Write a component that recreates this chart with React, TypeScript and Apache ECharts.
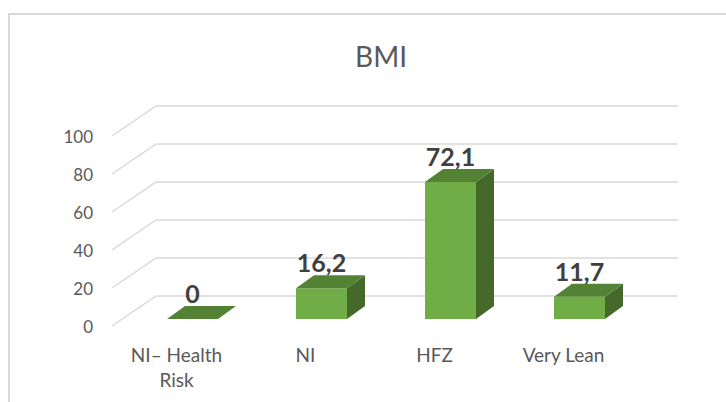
import React, { useEffect, useRef } from "react";
import * as echarts from "echarts";

const title = "BMI";
const categories = ["NI– Health\nRisk", "NI", "HFZ", "Very Lean"];
const values = [0, 16.2, 72.1, 11.7];
const yTicks = [0, 20, 40, 60, 80, 100];

const FONT = "Lato, 'Open Sans', sans-serif";
const FRONT = "#70AD47";
const TOP = "#548235";
const SIDE = "#44692B";
const GRID = "#D9D9D9";

export default function App() {
  const ref = useRef<HTMLDivElement>(null);
  useEffect(() => {
    if (!ref.current) return;
    const chart = echarts.init(ref.current, undefined, { renderer: "svg" });
    const depthX = 18;
    const depthY = -13;
    const barW = 51;
    const offX = 16;
    const offY = -7;
    chart.setOption({
      animation: false,
      backgroundColor: "#ffffff",
      title: {
        text: title,
        left: 376,
        top: 37,
        textAlign: "center",
        textStyle: { color: "#595959", fontSize: 28, fontWeight: "normal", fontFamily: FONT },
      },
      graphic: [
        {
          type: "rect",
          shape: { x: 9, y: 14, width: 800, height: 500 },
          style: { fill: "none", stroke: GRID, lineWidth: 2 },
          silent: true,
        },
      ],
      grid: { left: 112, right: 98, top: 136, bottom: 76, containLabel: false },
      xAxis: {
        type: "category",
        data: categories,
        axisLine: { show: false },
        axisTick: { show: false },
        splitLine: { show: false },
        axisLabel: {
          color: "#595959",
          fontSize: 19,
          lineHeight: 25,
          margin: 16,
          fontFamily: FONT,
          interval: 0,
        },
      },
      yAxis: {
        type: "value",
        min: 0,
        max: 100,
        interval: 20,
        axisLine: { show: false },
        axisTick: { show: false },
        splitLine: { show: false },
        axisLabel: {
          color: "#595959",
          fontSize: 17,
          margin: 19,
          fontFamily: FONT,
          padding: [5, 0, 0, 0],
        },
      },
      series: [
        {
          type: "custom",
          z: 1,
          silent: true,
          data: yTicks.map((t) => [0, t]),
          renderItem: (params: any, api: any) => {
            const cs = params.coordSys;
            const y = api.coord([0, api.value(1)])[1];
            const left = cs.x;
            const right = cs.x + cs.width;
            return {
              type: "polyline",
              shape: {
                points: [
                  [left, y],
                  [left + 44, y - 30],
                  [right + 50, y - 30],
                ],
              },
              style: { stroke: GRID, lineWidth: 1.5, fill: "none" },
            };
          },
        },
        {
          type: "custom",
          z: 2,
          data: values.map((v, i) => [i, v]),
          renderItem: (params: any, api: any) => {
            const i = api.value(0);
            const v = api.value(1);
            const base = api.coord([i, 0]);
            const top = api.coord([i, v]);
            const fx = base[0] + offX - barW / 2;
            const fy0 = base[1] + offY;
            const fy1 = top[1] + offY;
            const children: any[] = [];
            if (fy0 - fy1 > 0.5) {
              children.push({
                type: "rect",
                shape: { x: fx, y: fy1, width: barW, height: fy0 - fy1 },
                style: { fill: FRONT },
              });
              children.push({
                type: "polygon",
                shape: {
                  points: [
                    [fx + barW, fy1],
                    [fx + barW + depthX, fy1 + depthY],
                    [fx + barW + depthX, fy0 + depthY],
                    [fx + barW, fy0],
                  ],
                },
                style: { fill: SIDE },
              });
            }
            children.push({
              type: "polygon",
              shape: {
                points: [
                  [fx, fy1],
                  [fx + barW, fy1],
                  [fx + barW + depthX, fy1 + depthY],
                  [fx + depthX, fy1 + depthY],
                ],
              },
              style: { fill: TOP },
            });
            children.push({
              type: "text",
              style: {
                x: fx + barW / 2,
                y: fy1 + depthY - 13,
                text: String(v).replace(".", ","),
                fill: "#404040",
                font: `bold 25px ${FONT}`,
                align: "center",
                verticalAlign: "middle",
              },
            });
            return { type: "group", children };
          },
        },
      ],
    });
    return () => chart.dispose();
  }, []);
  return (
    <div
      ref={ref}
      style={{ position: "fixed", left: 0, top: 0, width: 726, height: 402 }}
    />
  );
}
